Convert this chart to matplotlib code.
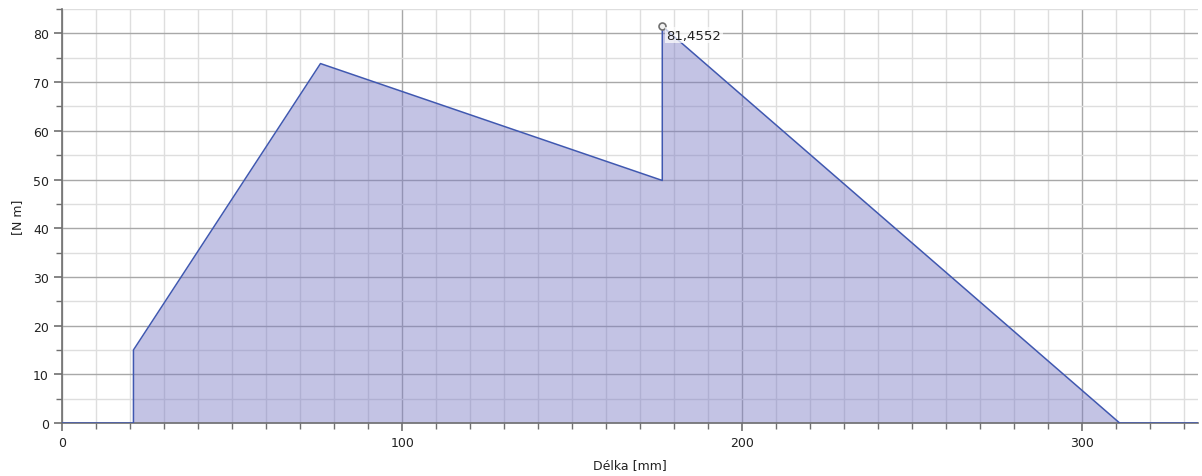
import matplotlib
matplotlib.use("Agg")
import matplotlib.pyplot as plt
from matplotlib.ticker import MultipleLocator

# Bending moment along the shaft
length_mm = [0, 21, 21, 76, 176.5, 176.5, 311, 334]
moment_nm = [0, 0, 15, 73.8, 49.8, 81.4552, 0, 0]
peak_x = 176.5
peak_value = 81.4552
peak_label = "81,4552"

fig = plt.figure(figsize=(12.02, 4.77), dpi=100)
ax = fig.add_axes([0.0516, 0.111, 0.945, 0.868])

line_color = "#4058b0"
fill_color = "#7a7ac4"

ax.fill_between(length_mm, moment_nm, 0, color=fill_color, alpha=0.45, lw=0, zorder=2)
ax.plot(length_mm, moment_nm, color=line_color, lw=1.1, zorder=3)
ax.plot([peak_x], [peak_value], marker="o", ms=5, mfc="#f2f2f2", mec="#707070", mew=1.2, zorder=4)
ax.annotate(peak_label, (peak_x, peak_value), xytext=(3, -9), textcoords="offset points",
            fontsize=9.5, color="#222222", zorder=5,
            bbox=dict(boxstyle="square,pad=0.1", fc="white", ec="none", alpha=0.7))

ax.set_xlim(0, 334)
ax.set_ylim(0, 85)
ax.xaxis.set_major_locator(MultipleLocator(100))
ax.xaxis.set_minor_locator(MultipleLocator(10))
ax.yaxis.set_major_locator(MultipleLocator(10))
ax.yaxis.set_minor_locator(MultipleLocator(5))

ax.grid(which="major", color="#a8a8a8", lw=1.0, zorder=0)
ax.grid(which="minor", color="#dedede", lw=1.0, zorder=0)
ax.set_axisbelow(True)

for side in ("top", "right"):
    ax.spines[side].set_visible(False)
for side in ("left", "bottom"):
    ax.spines[side].set_color("#707070")
    ax.spines[side].set_linewidth(1.2)

ax.tick_params(which="both", direction="out", color="#707070", labelsize=9, labelcolor="#222222")
ax.tick_params(which="major", length=6, width=1.2)
ax.tick_params(which="minor", length=4, width=1.0)

ax.set_xlabel("Délka [mm]", fontsize=9, color="#222222", labelpad=6)
ax.set_ylabel("[N m]", fontsize=9, color="#222222", labelpad=6)

fig.savefig("out.png", dpi=100, facecolor="white")
